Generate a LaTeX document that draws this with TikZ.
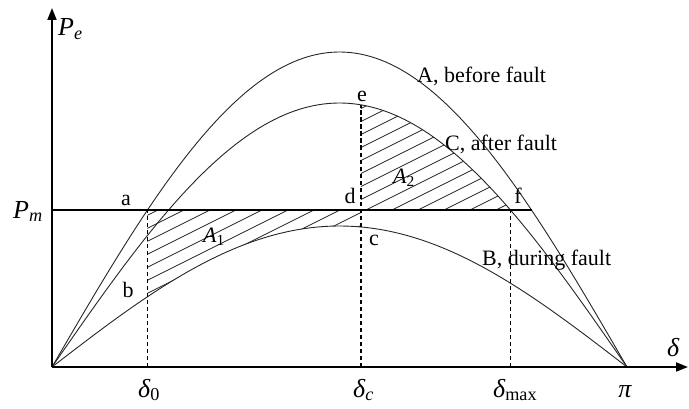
\documentclass[tikz,border=0pt]{standalone}
\usepackage{fontspec}
\setmainfont{Liberation Serif}
\usetikzlibrary{arrows.meta}
\begin{document}
\begin{tikzpicture}[x=1pt,y=1pt,
  curve/.style={line width=0.9pt, black!85},
  axis/.style={line width=1.8pt, -{Triangle[length=12pt,width=9pt]}},
  guide/.style={line width=1.6pt, dash pattern=on 4.5pt off 2.5pt},
  hatch/.style={line width=0.8pt, black!85},
  lbl/.style={font=\fontsize{22}{24}\selectfont, inner sep=0pt},
  sym/.style={font=\fontsize{26}{28}\selectfont\itshape, inner sep=0pt}]
\useasboundingbox (0,0) rectangle (689,408);
\def\K{183.03}
\def\Pm{157}
\def\dz{0.5215}
\def\dc{1.688}
\def\dm{2.5047}
\def\dA{2.620}
\begin{scope}[shift={(52,41)}]
  \coordinate (O) at (0,0);
  \coordinate (Xtip) at (636,0);
  \coordinate (Ytip) at (0,359);
  \coordinate (Pmstart) at (0,\Pm);
  \coordinate (a) at ({\dz*\K},\Pm);
  \coordinate (d) at ({\dc*\K},\Pm);
  \coordinate (f) at ({\dm*\K},\Pm);
  \coordinate (Pmend) at ({\dA*\K},\Pm);
  \coordinate (x0) at ({\dz*\K},0);
  \coordinate (xc) at ({\dc*\K},0);
  \coordinate (xm) at ({\dm*\K},0);
  \coordinate (e) at ({\dc*\K},{264*sin(\dc r)});
  % hatching A1
  \begin{scope}
    \clip (a) -- (d) -- plot[domain=\dc:\dz, samples=40] ({\K*\x},{141*sin(\x r)}) -- cycle;
    \foreach \k in {-40,...,40} \draw[hatch] (-50,{\k*13-25}) -- (600,{\k*13+300});
  \end{scope}
  % hatching A2
  \begin{scope}
    \clip (d) -- plot[domain=\dc:\dm, samples=40] ({\K*\x},{264*sin(\x r)}) -- cycle;
    \foreach \k in {-40,...,40} \draw[hatch] (-50,{\k*13-25}) -- (600,{\k*13+300});
  \end{scope}
  % curves
  \draw[curve] plot[domain=0:pi, samples=120] ({\K*\x},{315*sin(\x r)});
  \draw[curve] plot[domain=0:pi, samples=120] ({\K*\x},{264*sin(\x r)});
  \draw[curve] plot[domain=0:pi, samples=120] ({\K*\x},{141*sin(\x r)});
  % Pm line
  \draw[line width=1.3pt] (Pmstart) -- (Pmend);
  % dashed guides
  \draw[guide] (x0) -- (a);
  \draw[guide] (xc) -- (e);
  \draw[guide] (xm) -- (f);
  % axes
  \draw[axis] (O) -- (Xtip);
  \draw[axis] (O) -- (Ytip);
\end{scope}
% labels
\node[sym, anchor=base west] (lPe) at (58,372) {P\textsubscript{e}};
\node[sym, anchor=base west] (lPm) at (13,190) {P\textsubscript{m}};
\node[lbl, anchor=base] (la) at (126,203) {a};
\node[lbl, anchor=base] (lb) at (128,111) {b};
\node[lbl, anchor=base] (lc) at (374,163) {c};
\node[lbl, anchor=base] (ld) at (350,205) {d};
\node[lbl, anchor=base] (le) at (362,306) {e};
\node[lbl, anchor=base] (lf) at (518,205) {f};
\node[lbl, anchor=base west, font=\fontsize{22}{24}\selectfont\itshape] (lA1) at (203,166) {A\textsubscript{\upshape 1}};
\node[lbl, anchor=base west, font=\fontsize{22}{24}\selectfont\itshape] (lA2) at (393,225) {A\textsubscript{\upshape 2}};
\node[lbl, anchor=base west] (lA) at (417,325) {A, before fault};
\node[lbl, anchor=base west] (lC) at (445,258) {C, after fault};
\node[lbl, anchor=base west] (lB) at (482,143) {B, during fault};
\node[sym, anchor=base west] (ldelta) at (667,52) {δ};
\node[sym, anchor=base west] (ld0) at (138,11) {δ\textsubscript{\upshape 0}};
\node[sym, anchor=base west] (ldc) at (353,11) {δ\textsubscript{c}};
\node[sym, anchor=base west] (ldm) at (493,11) {δ\textsubscript{\upshape max}};
\node[sym, anchor=base] (lpi) at (625,11) {π};
\end{tikzpicture}
\end{document}
